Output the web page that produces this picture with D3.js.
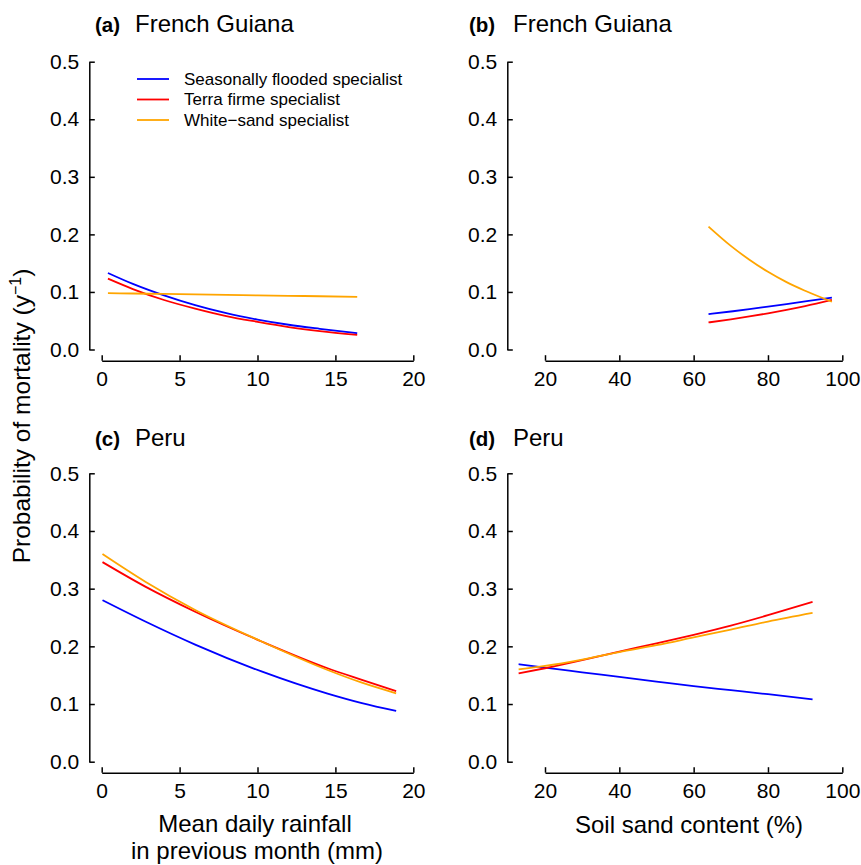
<!DOCTYPE html>
<html>
<head>
<meta charset="utf-8">
<script src="https://cdn.jsdelivr.net/npm/d3@7"></script>
<style>
  body { margin: 0; background: #fff; }
  svg { display: block; font-family: "Liberation Sans", Arial, sans-serif; }
</style>
</head>
<body>
<div id="chart"></div>
<script>
// Series names and colours
const seriesNames = ["Seasonally flooded specialist", "Terra firme specialist", "White\u2212sand specialist"];
const seriesColors = ["#0000ff", "#ff0000", "#ffa500"];

// (a) French Guiana, mortality vs rainfall
const fgRain = [0.4, 2, 4, 6, 8, 10, 12, 14, 16.4];
const fgRainFlooded = [0.133, 0.114, 0.094, 0.077, 0.063, 0.052, 0.043, 0.036, 0.0285];
const fgRainTerra   = [0.123, 0.105, 0.086, 0.071, 0.058, 0.048, 0.039, 0.032, 0.0255];
const fgRainWhite   = [0.098, 0.0973, 0.0965, 0.0957, 0.0949, 0.0941, 0.0933, 0.0925, 0.0915];

// (b) French Guiana, mortality vs soil sand
const fgSand = [64, 70, 75, 80, 85, 90, 97.2];
const fgSandFlooded = [0.0614, 0.066, 0.070, 0.0745, 0.079, 0.0835, 0.090];
const fgSandTerra   = [0.047, 0.0524, 0.0574, 0.0629, 0.0689, 0.0754, 0.086];
const fgSandWhite   = [0.2135, 0.180, 0.156, 0.135, 0.117, 0.102, 0.083];

// (c) Peru, mortality vs rainfall
const peRain = [0.05, 2.8, 6, 10.3, 14.5, 16.7, 18.9];
const peRainFlooded = [0.280, 0.243, 0.203, 0.156, 0.118, 0.1015, 0.088];
const peRainTerra   = [0.346, 0.3035, 0.260, 0.208, 0.162, 0.142, 0.1225];
const peRainWhite   = [0.360, 0.312, 0.263, 0.208, 0.159, 0.137, 0.1186];

// (d) Peru, mortality vs soil sand
const peSand = [12.9, 20, 30, 40, 50, 60, 70, 80, 92];
const peSandFlooded = [0.169, 0.163, 0.155, 0.147, 0.139, 0.131, 0.124, 0.117, 0.108];
const peSandTerra   = [0.153, 0.162, 0.176, 0.191, 0.205, 0.220, 0.236, 0.254, 0.277];
const peSandWhite   = [0.160, 0.166, 0.177, 0.190, 0.202, 0.2155, 0.229, 0.243, 0.258];

// Axis ticks
const rainTicks = [0, 5, 10, 15, 20];
const sandTicks = [20, 40, 60, 80, 100];
const probTicks = [0, 0.1, 0.2, 0.3, 0.4, 0.5];

const width = 861;
const height = 865;
const font = "\"Liberation Sans\", Arial, sans-serif";

const svg = d3.select("#chart")
              .append("svg")
              .attr("width", width)
              .attr("height", height);

svg.append("rect")
   .attr("width", width)
   .attr("height", height)
   .attr("fill", "#fff");

// layout of the 4 panels
const rows = [
    { y0: 349.5, y5: 61.7, axisY: 360.7, titleY: 32 },
    { y0: 761.7, y5: 473.3, axisY: 772.7, titleY: 446 }
];
const cols = [
    { xr: [101.7, 413.3], axisX: 89.3, tagX: 95, nameX: 135 },
    { xr: [545, 842.3], axisX: 507.3, tagX: 469, nameX: 513 }
];

const panels = [
    { tag: "(a)", name: "French Guiana", row: 0, col: 0, dom: [0, 20], ticks: rainTicks,
      x: fgRain, ys: [fgRainFlooded, fgRainTerra, fgRainWhite], legend: true },
    { tag: "(b)", name: "French Guiana", row: 0, col: 1, dom: [20, 100], ticks: sandTicks,
      x: fgSand, ys: [fgSandFlooded, fgSandTerra, fgSandWhite] },
    { tag: "(c)", name: "Peru", row: 1, col: 0, dom: [0, 20], ticks: rainTicks,
      x: peRain, ys: [peRainFlooded, peRainTerra, peRainWhite] },
    { tag: "(d)", name: "Peru", row: 1, col: 1, dom: [20, 100], ticks: sandTicks,
      x: peSand, ys: [peSandFlooded, peSandTerra, peSandWhite] }
];

panels.forEach(function(p) {
    const r = rows[p.row];
    const c = cols[p.col];

    const x = d3.scaleLinear().domain(p.dom).range(c.xr);
    const y = d3.scaleLinear().domain([0, 0.5]).range([r.y0, r.y5]);

    const g = svg.append("g");

    // y axis, ticks pointing inward
    const yAxis = g.append("g")
                   .attr("transform", `translate(${c.axisX},0)`)
                   .call(d3.axisLeft(y).tickValues(probTicks).tickFormat(d3.format(".1f"))
                           .tickSizeInner(-5.5).tickSizeOuter(0).tickPadding(10));

    // x axis, ticks pointing inward
    const xAxis = g.append("g")
                   .attr("transform", `translate(0,${r.axisY})`)
                   .call(d3.axisBottom(x).tickValues(p.ticks).tickFormat(d3.format("d"))
                           .tickSizeInner(-5.5).tickSizeOuter(0).tickPadding(10.5));

    [yAxis, xAxis].forEach(function(ax) {
        ax.attr("font-family", font).attr("font-size", 21);
        ax.selectAll("path, line").attr("stroke", "#000").attr("stroke-width", 1.5);
        ax.selectAll("text").attr("fill", "#000");
    });

    // panel title
    g.append("text")
     .attr("x", c.tagX)
     .attr("y", r.titleY)
     .attr("font-size", 20.5)
     .attr("font-weight", "bold")
     .text(p.tag);
    g.append("text")
     .attr("x", c.nameX)
     .attr("y", r.titleY)
     .attr("font-size", 24)
     .text(p.name);

    // fitted curves
    const line = d3.line()
                   .x(d => x(d[0]))
                   .y(d => y(d[1]))
                   .curve(d3.curveMonotoneX);

    p.ys.forEach(function(vals, i) {
        const pts = p.x.map((v, j) => [v, vals[j]]);
        g.append("path")
         .datum(pts)
         .attr("fill", "none")
         .attr("stroke", seriesColors[i])
         .attr("stroke-width", 1.8)
         .attr("d", line);
    });

    // legend (only in panel a)
    if (p.legend) {
        const leg = g.selectAll(".legend")
                     .data(seriesNames)
                     .enter().append("g")
                     .attr("class", "legend")
                     .attr("transform", (d, i) => `translate(137,${79 + i * 20.5})`);
        leg.append("line")
           .attr("x1", 0).attr("x2", 32)
           .attr("stroke", (d, i) => seriesColors[i])
           .attr("stroke-width", 1.8);
        leg.append("text")
           .attr("x", 47)
           .attr("dy", "0.35em")
           .attr("font-size", 17)
           .text(d => d);
    }
});

// axis titles
const ylab = svg.append("text")
                .attr("transform", "translate(30,416) rotate(-90)")
                .attr("text-anchor", "middle")
                .attr("font-size", 24.5);
ylab.append("tspan").text("Probability of mortality (y");
ylab.append("tspan").attr("dy", -9).attr("font-size", 16).text("\u22121");
ylab.append("tspan").attr("dy", 9).text(")");

svg.append("text")
   .attr("x", 255).attr("y", 832)
   .attr("text-anchor", "middle")
   .attr("font-size", 24)
   .text("Mean daily rainfall");
svg.append("text")
   .attr("x", 257).attr("y", 859)
   .attr("text-anchor", "middle")
   .attr("font-size", 24)
   .text("in previous month (mm)");
svg.append("text")
   .attr("x", 689).attr("y", 833)
   .attr("text-anchor", "middle")
   .attr("font-size", 24)
   .text("Soil sand content (%)");
</script>
</body>
</html>
